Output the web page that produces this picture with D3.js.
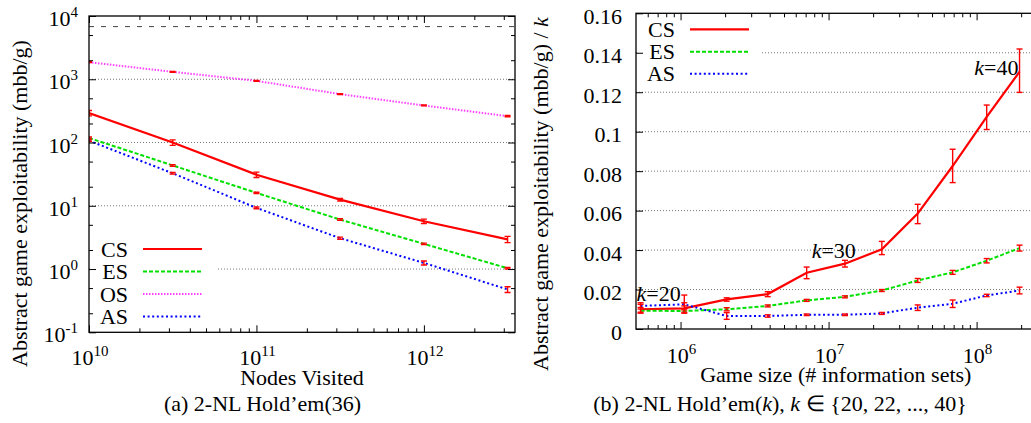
<!DOCTYPE html>
<html><head><meta charset="utf-8">
<script src="https://cdn.jsdelivr.net/npm/d3@7"></script>
<style>body{margin:0;background:#fff}svg{font-family:"Liberation Serif","Times New Roman",serif}</style>
</head><body><svg id="c" width="1031" height="423"></svg>
<script>
// ---------- Data: (a) 2-NL Hold'em(36) ----------
const nodesVisited = [1e10, 3.16e10, 1e11, 3.16e11, 1e12, 3.16e12];
const csA  = [292, 100, 31, 12.5, 5.7, 2.95];
const csAErr = [28, 10, 3, 0.6, 0.45, 0.33];
const esA  = [118, 43.5, 16, 6.05, 2.5, 1.03];
const esAErr = [4, 1.3, 0.4, 0.18, 0.07, 0.03];
const osA  = [1860, 1310, 944, 582, 385, 261];
const osAErr = [30, 20, 15, 10, 6, 6];
const asA  = [107, 32.6, 9.27, 3.07, 1.25, 0.476];
const asAErr = [3, 1, 0.3, 0.12, 0.09, 0.05];
const refLineA = 6800;
const xTicksA = [1e10, 1e11, 1e12];
const yTicksA = [0.1, 1, 10, 100, 1000, 10000];

// ---------- Data: (b) 2-NL Hold'em(k) ----------
const kValues = [20, 22, 24, 26, 28, 30, 32, 34, 36, 38, 40];
const gameSizes = [5.37e5, 1.06e6, 2.05e6, 3.88e6, 7.11e6, 1.29e7, 2.29e7, 4.0e7, 6.89e7, 1.17e8, 1.95e8];
const csB = [0.0100, 0.0105, 0.0150, 0.0177, 0.0285, 0.0331, 0.0404, 0.0585, 0.0826, 0.1075, 0.1304];
const csBLo = [0.0080, 0.0080, 0.0141, 0.0164, 0.0255, 0.0314, 0.0377, 0.0534, 0.0742, 0.1011, 0.1199];
const csBHi = [0.0133, 0.0172, 0.0158, 0.0189, 0.0314, 0.0348, 0.0444, 0.0632, 0.0911, 0.1135, 0.1419];
const esB = [0.0093, 0.0091, 0.0100, 0.0117, 0.0145, 0.0163, 0.0195, 0.0246, 0.0287, 0.0346, 0.0410];
const esBErr = [0.0008, 0.0006, 0.0008, 0.0005, 0.0005, 0.0005, 0.0005, 0.0010, 0.0010, 0.0011, 0.0015];
const asB = [0.0117, 0.0125, 0.0066, 0.0066, 0.0072, 0.0072, 0.0079, 0.0108, 0.0128, 0.0170, 0.0195];
const asBErr = [0.0008, 0.0008, 0.0017, 0.0006, 0.0004, 0.0004, 0.0005, 0.0014, 0.0019, 0.0006, 0.0017];
const xTicksB = [1e6, 1e7, 1e8];
const yTicksB = [0, 0.02, 0.04, 0.06, 0.08, 0.1, 0.12, 0.14, 0.16];
const yTickLabelsB = ["0", "0.02", "0.04", "0.06", "0.08", "0.1", "0.12", "0.14", "0.16"];

const styles = {
  CS: {color: "#ff0000", dash: null, width: 2.2},
  ES: {color: "#00e000", dash: "4,2", width: 2},
  OS: {color: "#ff40ff", dash: "1.5,1.5", width: 2},
  AS: {color: "#0000ff", dash: "2,2.6", width: 2}
};

const svg = d3.select("#c");
const FS = 22, SUP = 15;

function minorLog(domain) {
  const out = [];
  const lo = Math.floor(Math.log10(domain[0])), hi = Math.ceil(Math.log10(domain[1]));
  for (let e = lo; e <= hi; e++) for (let m = 2; m <= 9; m++) {
    const v = m * Math.pow(10, e);
    if (v > domain[0] && v < domain[1]) out.push(v);
  }
  return out;
}
function minorLogSparse(domain, ms) {
  const out = [];
  const lo = Math.floor(Math.log10(domain[0])), hi = Math.ceil(Math.log10(domain[1]));
  for (let e = lo; e <= hi; e++) for (const m of ms) {
    const v = m * Math.pow(10, e);
    if (v > domain[0] && v < domain[1]) out.push(v);
  }
  return out;
}
function drawTicks(g, axisGen, scale, values, size, tx, ty) {
  const a = g.append("g").attr("transform", `translate(${tx},${ty})`)
    .call(axisGen(scale).tickValues(values).tickSize(size).tickSizeOuter(0).tickFormat(""));
  a.select(".domain").remove();
  a.selectAll("line").attr("stroke", "#000").attr("stroke-width", 1);
}
function pow10Label(g, x, y, exp, anchor) {
  const t = g.append("text").attr("x", x).attr("y", y).attr("text-anchor", anchor)
    .attr("font-size", FS).attr("fill", "#000");
  t.append("tspan").text("10");
  t.append("tspan").attr("font-size", SUP).attr("dy", -9).text(exp);
}
function errBars(g, xs, ys, xv, lo, hi, cap) {
  const eb = g.append("g").attr("stroke", "#ff0000").attr("stroke-width", 1.4).attr("fill", "none");
  xv.forEach((xd, i) => {
    const X = xs(xd), Y1 = ys(lo[i]), Y2 = ys(hi[i]);
    eb.append("line").attr("x1", X).attr("x2", X).attr("y1", Y1).attr("y2", Y2);
    eb.append("line").attr("x1", X - cap).attr("x2", X + cap).attr("y1", Y1).attr("y2", Y1);
    eb.append("line").attr("x1", X - cap).attr("x2", X + cap).attr("y1", Y2).attr("y2", Y2);
  });
}
function seriesLine(g, xs, ys, xv, yv, st) {
  const line = d3.line().x((d, i) => xs(xv[i])).y(d => ys(d));
  const p = g.append("path").datum(yv).attr("d", line).attr("fill", "none")
    .attr("stroke", st.color).attr("stroke-width", st.width);
  if (st.dash) p.attr("stroke-dasharray", st.dash);
}

// ================= Chart (a) =================
(function () {
  const L = 89, R = 515, T = 16, B = 332.3;
  const xs = d3.scaleLog().domain([1e10, 3.5e12]).range([L, R]);
  const ys = d3.scaleLog().domain([0.1, 1e4]).range([B, T]);
  const g = svg.append("g");
  const clipId = "clipA";
  svg.append("defs").append("clipPath").attr("id", clipId).append("rect")
    .attr("x", L).attr("y", T).attr("width", R - L).attr("height", B - T);

  // grid
  const grid = g.append("g").attr("stroke", "#777").attr("stroke-width", 1).attr("stroke-dasharray", "1,2");
  yTicksA.filter(v => v > 0.1 && v < 1e4).forEach(v => {
    grid.append("line").attr("x1", L).attr("x2", R).attr("y1", ys(v)).attr("y2", ys(v));
  });
  // legend background
  g.append("rect").attr("x", L + 1).attr("y", 238).attr("width", 126).attr("height", B - 239).attr("fill", "#fff");

  // reference dashed line
  g.append("line").attr("x1", L).attr("x2", R).attr("y1", ys(refLineA)).attr("y2", ys(refLineA))
    .attr("stroke", "#444").attr("stroke-width", 1).attr("stroke-dasharray", "5,7");

  const dg = g.append("g").attr("clip-path", `url(#${clipId})`);
  const sets = [["CS", csA, csAErr], ["ES", esA, esAErr], ["OS", osA, osAErr], ["AS", asA, asAErr]];
  sets.forEach(([n, v, e]) => {
    seriesLine(dg, xs, ys, nodesVisited, v, styles[n]);
    errBars(dg, xs, ys, nodesVisited, v.map((d, i) => d - e[i]), v.map((d, i) => d + e[i]), 3);
  });

  // ticks
  drawTicks(g, d3.axisBottom, xs, xTicksA, -7, 0, B);
  drawTicks(g, d3.axisBottom, xs, minorLog(xs.domain()), -4, 0, B);
  drawTicks(g, d3.axisTop, xs, xTicksA, -7, 0, T);
  drawTicks(g, d3.axisTop, xs, minorLog(xs.domain()), -4, 0, T);
  drawTicks(g, d3.axisLeft, ys, yTicksA, -7, L, 0);
  drawTicks(g, d3.axisLeft, ys, minorLogSparse(ys.domain(), [2, 5]), -4, L, 0);
  drawTicks(g, d3.axisRight, ys, yTicksA, -7, R, 0);
  drawTicks(g, d3.axisRight, ys, minorLogSparse(ys.domain(), [2, 5]), -4, R, 0);
  g.append("rect").attr("x", L).attr("y", T).attr("width", R - L).attr("height", B - T)
    .attr("fill", "none").attr("stroke", "#000").attr("stroke-width", 1.3);

  // tick labels
  yTicksA.forEach(v => pow10Label(g, 78, ys(v) + 10, String(Math.round(Math.log10(v))), "end"));
  xTicksA.forEach(v => pow10Label(g, xs(v) + 1, 365, String(Math.round(Math.log10(v))), "middle"));

  // axis titles
  g.append("text").attr("x", (L + R) / 2).attr("y", 385).attr("text-anchor", "middle")
    .attr("font-size", FS).text("Nodes Visited");
  g.append("text").attr("transform", "translate(27,203.5) rotate(-90)").attr("text-anchor", "middle")
    .attr("font-size", FS).text("Abstract game exploitability (mbb/g)");
  g.append("text").attr("x", 262.5).attr("y", 411).attr("text-anchor", "middle")
    .attr("font-size", FS).text("(a) 2-NL Hold\u2019em(36)");

  // legend
  const names = ["CS", "ES", "OS", "AS"];
  const ly = [249, 271.5, 294, 316.5];
  names.forEach((n, i) => {
    g.append("text").attr("x", 128).attr("y", ly[i] + 7.5).attr("text-anchor", "end")
      .attr("font-size", FS).text(n);
    const st = styles[n];
    const l = g.append("line").attr("x1", 143).attr("x2", 202).attr("y1", ly[i]).attr("y2", ly[i])
      .attr("stroke", st.color).attr("stroke-width", st.width);
    if (st.dash) l.attr("stroke-dasharray", st.dash);
  });
})();

// ================= Chart (b) =================
(function () {
  const L = 636, R = 1035.5, T = 13.3, B = 329;
  const xs = d3.scaleLog().domain([5e5, 2.5e8]).range([L, R]);
  const ys = d3.scaleLinear().domain([0, 0.16]).range([B, T]);
  const g = svg.append("g");

  const grid = g.append("g").attr("stroke", "#777").attr("stroke-width", 1).attr("stroke-dasharray", "1,2");
  yTicksB.filter(v => v > 0 && v < 0.16).forEach(v => {
    grid.append("line").attr("x1", L).attr("x2", R).attr("y1", ys(v)).attr("y2", ys(v));
  });
  g.append("rect").attr("x", L + 1).attr("y", T + 1).attr("width", 124).attr("height", 72).attr("fill", "#fff");

  const sets = [["CS", csB, csBLo, csBHi], ["ES", esB, esB.map((d, i) => d - esBErr[i]), esB.map((d, i) => d + esBErr[i])],
                ["AS", asB, asB.map((d, i) => d - asBErr[i]), asB.map((d, i) => d + asBErr[i])]];
  sets.forEach(([n, v, lo, hi]) => {
    seriesLine(g, xs, ys, gameSizes, v, styles[n]);
    errBars(g, xs, ys, gameSizes, lo, hi, 3);
  });

  drawTicks(g, d3.axisBottom, xs, xTicksB, -7, 0, B);
  drawTicks(g, d3.axisBottom, xs, minorLog(xs.domain()), -4, 0, B);
  drawTicks(g, d3.axisTop, xs, xTicksB, -7, 0, T);
  drawTicks(g, d3.axisTop, xs, minorLog(xs.domain()), -4, 0, T);
  drawTicks(g, d3.axisLeft, ys, yTicksB, -7, L, 0);
  g.append("rect").attr("x", L).attr("y", T).attr("width", R - L).attr("height", B - T)
    .attr("fill", "none").attr("stroke", "#000").attr("stroke-width", 1.3);

  yTicksB.forEach((v, i) => g.append("text").attr("x", 622).attr("y", ys(v) + 10.5)
    .attr("text-anchor", "end").attr("font-size", FS).text(yTickLabelsB[i]));
  xTicksB.forEach(v => pow10Label(g, xs(v) + 1, 363, String(Math.round(Math.log10(v))), "middle"));

  // annotations
  const ann = [[0, "20", -4, -8, "start"], [4, "30", 5, -15, "start"], [10, "40", -1, 3.5, "end"]];
  ann.forEach(([i, k, dx, dy, anc]) => {
    const t = g.append("text").attr("x", xs(gameSizes[i]) + dx).attr("y", ys(csB[i]) + dy)
      .attr("text-anchor", anc).attr("font-size", FS);
    t.append("tspan").attr("font-style", "italic").text("k");
    t.append("tspan").text("=" + k);
  });

  g.append("text").attr("x", 835.8).attr("y", 382).attr("text-anchor", "middle")
    .attr("font-size", FS).text("Game size (# information sets)");
  const yl = g.append("text").attr("transform", "translate(548,194) rotate(-90)").attr("text-anchor", "middle")
    .attr("font-size", FS);
  yl.append("tspan").text("Abstract game exploitability (mbb/g) / ");
  yl.append("tspan").attr("font-style", "italic").text("k");
  const cap = g.append("text").attr("x", 780).attr("y", 411).attr("text-anchor", "middle").attr("font-size", FS);
  cap.append("tspan").text("(b) 2-NL Hold\u2019em(");
  cap.append("tspan").attr("font-style", "italic").text("k");
  cap.append("tspan").text("), ");
  cap.append("tspan").attr("font-style", "italic").text("k");
  cap.append("tspan").text(" \u2208 {20, 22, ..., 40}");

  const names = ["CS", "ES", "AS"];
  const ly = [29.3, 51.8, 73.7];
  names.forEach((n, i) => {
    g.append("text").attr("x", 675).attr("y", ly[i] + 7.5).attr("text-anchor", "end")
      .attr("font-size", FS).text(n);
    const st = styles[n];
    const l = g.append("line").attr("x1", 690).attr("x2", 749).attr("y1", ly[i]).attr("y2", ly[i])
      .attr("stroke", st.color).attr("stroke-width", st.width);
    if (st.dash) l.attr("stroke-dasharray", st.dash);
  });
})();
</script></body></html>
